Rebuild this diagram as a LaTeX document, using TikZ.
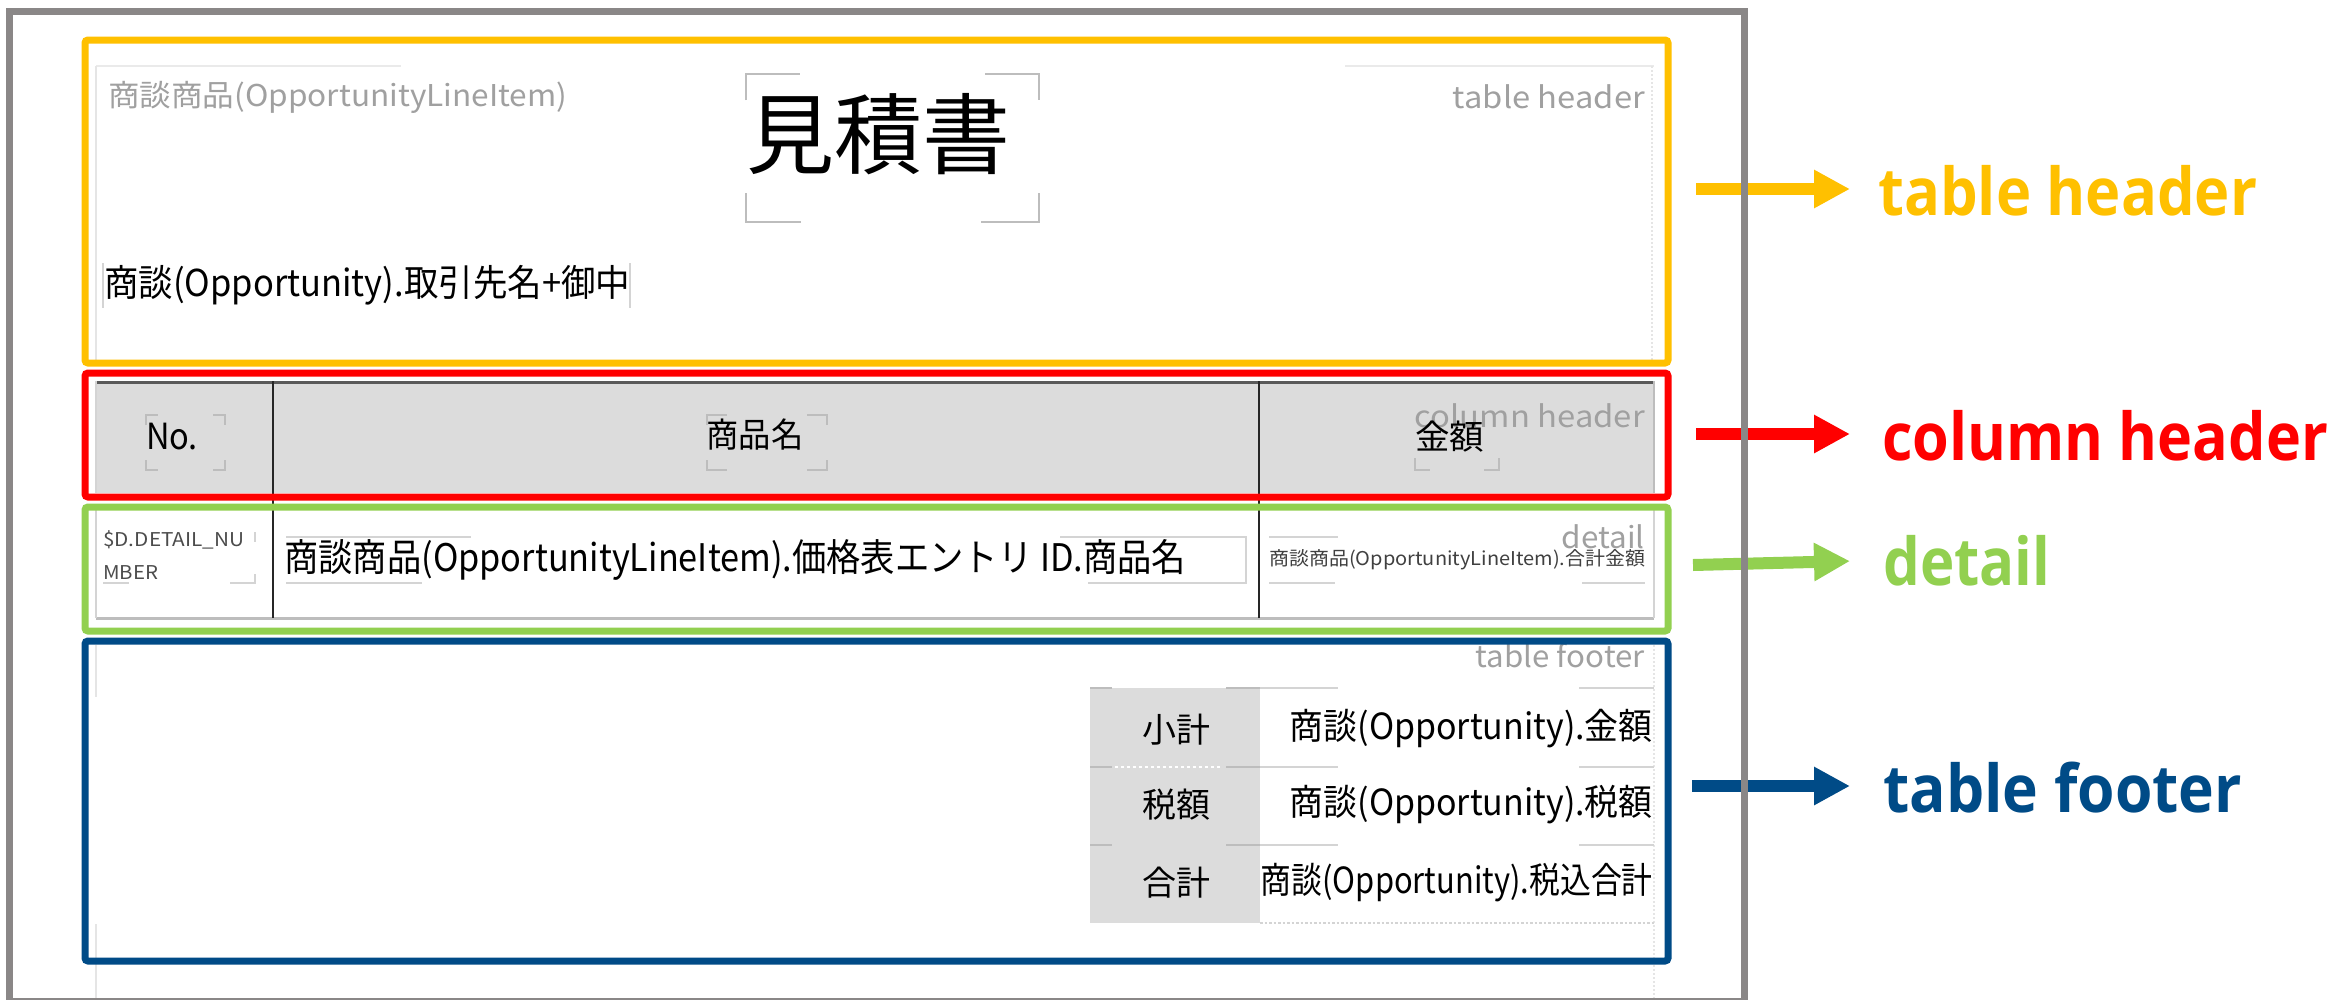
\documentclass[tikz,border=0pt]{standalone}
\usepackage{fontspec}
\usepackage{graphicx}
\setmainfont{Noto Sans CJK JP}
\newfontfamily\lblfont{Open Sans}
\usetikzlibrary{arrows.meta}
\definecolor{cyel}{HTML}{FFC000}
\definecolor{cred}{HTML}{FF0000}
\definecolor{cgrn}{HTML}{92D050}
\definecolor{cblu}{HTML}{004B87}
\definecolor{cframe}{HTML}{8A8787}
\definecolor{cgtxt}{HTML}{A0A0A0}
\definecolor{cguide}{HTML}{D4D4D4}
\definecolor{cbrk}{HTML}{BDBDBD}
\definecolor{ccell}{HTML}{DCDCDC}
\definecolor{cdark}{HTML}{5A5A5A}
\newcommand{\fitw}[2]{\resizebox{#1pt}{\height}{#2}}
\begin{document}
\begin{tikzpicture}[x=1pt,y=-1pt,
  frame/.style={draw=cframe, line width=7pt},
  zone/.style={line width=7pt, rounded corners=3pt},
  guide/.style={draw=cguide, line width=2.5pt},
  faint/.style={draw=cguide!60, line width=2pt},
  brk/.style={draw=cbrk, line width=2pt},
  txt/.style={inner sep=0pt, text=black},
  gtxt/.style={inner sep=0pt, text=cgtxt, font=\fontsize{30}{34}\selectfont},
  lbl/.style={inner sep=0pt, font=\lblfont\bfseries\fontsize{66}{72}\selectfont},
  arr/.style={line width=12pt, -{Triangle[length=36pt,width=36pt]}},
]
\useasboundingbox (0,0) rectangle (2335,999);
\fill[white] (0,0) rectangle (2335,999);

% ---------- table header content ----------
\draw[guide, draw=cguide!50] (96,66) -- (401,66);
\draw[guide, draw=cguide!50] (1345,66) -- (1654,66);
\draw[faint] (96,66) -- (96,360);
\draw[faint, dotted] (1652,66) -- (1652,360);
\node[txt, text=cgtxt, anchor=west, font=\fontsize{30}{34}\selectfont] (hdrsrc) at (108,97) {\fitw{459}{商談商品(OpportunityLineItem)}};
\node[txt, font=\fontsize{88}{96}\selectfont] (title) at (878,134) {見積書};
\draw[brk] (746,100) -- (746,74) -- (800,74);
\draw[brk] (746,193) -- (746,222) -- (801,222);
\draw[brk] (985,74) -- (1039,74) -- (1039,100);
\draw[brk] (981,222) -- (1039,222) -- (1039,193);
\node[gtxt, anchor=base east] (thtag) at (1645,108) {\fitw{192}{table header}};
\node[txt, anchor=west, font=\fontsize{37}{40}\selectfont] (client) at (104,285) {\fitw{526}{商談(Opportunity).取引先名+御中}};
\draw[brk, draw=cguide] (103,263) -- (103,308);
\draw[brk, draw=cguide] (630,263) -- (630,308);

% ---------- column header content ----------
\fill[ccell] (96,381) rectangle (1654,493);
\draw[line width=3pt, cdark] (96,382) -- (1654,382);
\draw[guide] (96,381) -- (96,493);
\draw[guide, draw=cbrk] (1654,381) -- (1654,493);
\node[txt, font=\fontsize{36}{40}\selectfont] (cno) at (172,437) {\fitw{52}{No.}};
\draw[brk] (146,425) -- (146,415) -- (158,415);
\draw[brk] (213,415) -- (225,415) -- (225,425);
\draw[brk] (146,460) -- (146,470) -- (158,470);
\draw[brk] (213,470) -- (225,470) -- (225,460);
\node[txt, font=\fontsize{34}{40}\selectfont] (cname) at (755,435) {\fitw{97}{商品名}};
\draw[brk] (707,425) -- (707,415) -- (727,415);
\draw[brk] (807,415) -- (827,415) -- (827,425);
\draw[brk] (707,460) -- (707,470) -- (727,470);
\draw[brk] (807,470) -- (827,470) -- (827,460);
\node[gtxt, anchor=base east] (chtag) at (1645,427) {\fitw{230}{column header}};
\node[txt, anchor=west, font=\fontsize{34}{40}\selectfont] (camt) at (1415,437) {\fitw{69}{金額}};
\draw[brk] (1415,458) -- (1415,470) -- (1430,470);
\draw[brk] (1484,470) -- (1499,470) -- (1499,458);

% ---------- detail content ----------
\draw[guide, draw=cbrk, line width=3pt] (96,618) -- (1654,618);
\draw[guide] (96,510) -- (96,618);
\draw[guide] (1654,510) -- (1654,618);
\draw[line width=2.5pt, black!85] (273,381) -- (273,618);
\draw[line width=2.5pt, black!85] (1259,381) -- (1259,618);
\node[txt, text=black!70, anchor=west, font=\fontsize{19}{22}\selectfont] (dnum1) at (103,540) {\fitw{141}{\$D.DETAIL\_NU}};
\node[txt, text=black!70, anchor=west, font=\fontsize{19}{22}\selectfont] (dnum2) at (103,573) {\fitw{55}{MBER}};
\draw[brk, draw=cguide] (255,532) -- (255,542);
\draw[brk, draw=cguide] (230,583) -- (255,583) -- (255,574);
\draw[brk, draw=cguide] (103,583) -- (129,583);
\node[txt, anchor=west, font=\fontsize{38}{42}\selectfont] (dname) at (284,560) {\fitw{902}{商談商品(OpportunityLineItem).価格表エントリ ID.商品名}};
\draw[brk, draw=cguide] (286,537) -- (471,537);
\draw[brk, draw=cguide] (1060,537) -- (1246,537) -- (1246,583) -- (1088,583);
\draw[brk, draw=cguide] (286,583) -- (422,583);
\node[gtxt, anchor=base east] (dtag) at (1645,548) {\fitw{83}{detail}};
\node[txt, text=black!75, anchor=west, font=\fontsize{19}{22}\selectfont] (damt) at (1269,560) {\fitw{376}{商談商品(OpportunityLineItem).合計金額}};
\draw[brk, draw=cguide] (1269,537) -- (1338,537);
\draw[brk, draw=cguide] (1269,583) -- (1335,583);
\draw[brk, draw=cguide] (1582,583) -- (1645,583);

% ---------- table footer content ----------
\draw[faint] (96,645) -- (96,697);
\draw[faint] (96,924) -- (96,999);
\draw[faint, dotted] (1654,645) -- (1654,999);
\node[gtxt, anchor=base east] (tftag) at (1645,667) {\fitw{169}{table footer}};
\fill[ccell] (1090,688) rectangle (1260,923);
\foreach \yy in {688,767,845}{
  \draw[guide] (1260,\yy) -- (1338,\yy);
  \draw[guide] (1579,\yy) -- (1654,\yy);
  \draw[guide, draw=cbrk] (1090,\yy) -- (1112,\yy);
  \draw[guide, draw=cbrk] (1226,\yy) -- (1260,\yy);
}
\draw[white, line width=2pt, dashed] (1115,767) -- (1222,767);
\draw[guide, dotted] (1260,923) -- (1654,923);
\node[txt, font=\fontsize{34}{38}\selectfont] (fsub) at (1176,730) {小計};
\node[txt, font=\fontsize{34}{38}\selectfont] (ftax) at (1176,805) {税額};
\node[txt, font=\fontsize{34}{38}\selectfont] (ftot) at (1176,883) {合計};
\node[txt, anchor=east, font=\fontsize{36}{40}\selectfont] (vsub) at (1653,729) {\fitw{363}{商談(Opportunity).金額}};
\node[txt, anchor=east, font=\fontsize{36}{40}\selectfont] (vtax) at (1653,805) {\fitw{363}{商談(Opportunity).税額}};
\node[txt, anchor=east, font=\fontsize{36}{40}\selectfont] (vtot) at (1653,883) {\fitw{392}{商談(Opportunity).税込合計}};

% ---------- coloured zones ----------
\draw[zone, cyel] (85,40) rectangle (1668,363);
\draw[zone, cred] (85,373) rectangle (1668,497);
\draw[zone, cgrn] (85,507) rectangle (1668,631);
\draw[zone, cblu] (85,641) rectangle (1668,961);

% ---------- labels and arrows ----------
\node[lbl, text=cyel, anchor=base west] (lth) at (1878,215) {\fitw{379}{table header}};
\node[lbl, text=cred, anchor=base west] (lch) at (1882,460) {\fitw{446}{column header}};
\node[lbl, text=cgrn, anchor=base west] (ldt) at (1883,585) {\fitw{167}{detail}};
\node[lbl, text=cblu, anchor=base west] (ltf) at (1883,812) {\fitw{359}{table footer}};
\coordinate (a1) at (1696,189);
\coordinate (a2) at (1696,434);
\coordinate (a3) at (1693,565);
\coordinate (a4) at (1692,786);
\draw[arr, cyel] (a1) -- (a1 -| lth.west) [shorten >=28pt];
\draw[arr, cred, shorten >=32pt] (a2) -- (a2 -| lch.west);
\draw[arr, cgrn, shorten >=33pt] (a3) -- (ldt.west);
\draw[arr, cblu, shorten >=33pt] (a4) -- (a4 -| ltf.west);

% ---------- outer frame ----------
\draw[frame] (9,11) rectangle (1744,1001);
\end{tikzpicture}
\end{document}
